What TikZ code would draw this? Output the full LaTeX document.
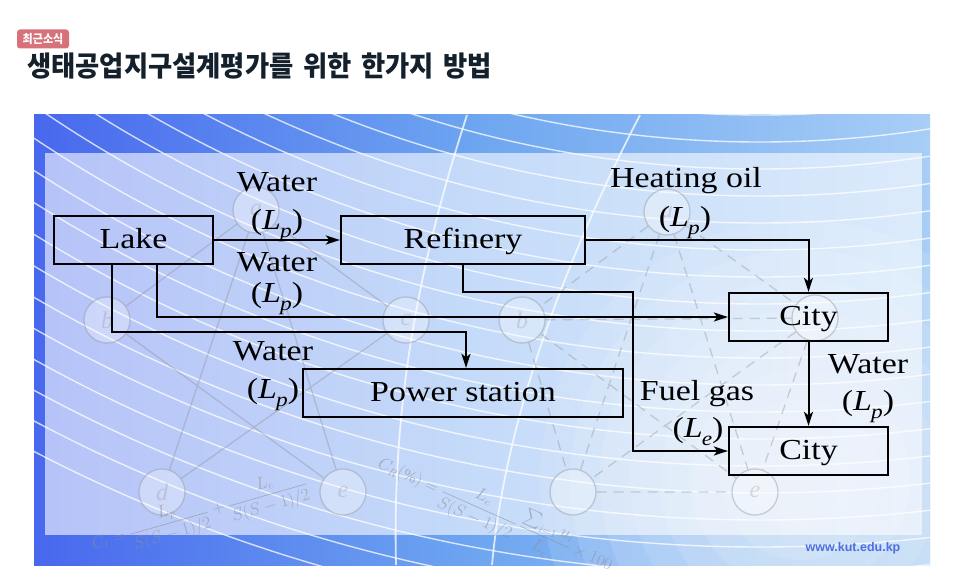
\documentclass[tikz,border=0pt]{standalone}
\usepackage{fontspec}
\usepackage{amsmath}
\setmainfont{Liberation Serif}
\newfontfamily\diag[FakeStretch=1.17]{Liberation Serif}
\newfontfamily\krfont[FakeStretch=0.92]{Noto Sans CJK KR}
\newfontfamily\krtitle[FakeStretch=0.94,WordSpace=1.6]{Noto Sans CJK KR}
\newfontfamily\webfont{Liberation Sans}
\usetikzlibrary{arrows.meta,calc}
\definecolor{frameL}{HTML}{4868EE}
\definecolor{frameM}{HTML}{6EA6F0}
\definecolor{frameR}{HTML}{A8CEF6}
\definecolor{badgec}{HTML}{D8727A}
\definecolor{titlec}{HTML}{14202B}
\definecolor{webc}{HTML}{4D6FE0}
\definecolor{ghost}{HTML}{8E8E96}
\newcommand\Lsub[1]{\textit{L}\kern-0.03em\raisebox{-0.3em}{\fontsize{20}{20}\selectfont\itshape #1}}
\begin{document}
\begin{tikzpicture}[x=1pt,y=-1pt,
  box/.style={draw=black,line width=2.3pt,minimum height=48pt,inner sep=0pt,text height=21pt,text depth=5pt,font=\diag\fontsize{29}{36}\selectfont},
  lbl/.style={font=\diag\fontsize{29}{36}\selectfont,inner sep=0pt,anchor=base},
  flow/.style={line width=2pt,-{Stealth[length=14pt,width=9pt,inset=3.5pt]}},
  gnode/.style={circle,draw=ghost,line width=1.3pt,minimum size=46pt,inner sep=0pt,fill=white,fill opacity=0.3,draw opacity=0.4,text opacity=0.3,text=ghost,font=\fontsize{24}{24}\selectfont\itshape},
  gline/.style={draw=ghost,line width=1.3pt,draw opacity=0.38},
  gdash/.style={gline,dash pattern=on 10pt off 7pt},
  ghosttext/.style={text=ghost,text opacity=0.6,inner sep=0pt,font=\fontsize{16}{16}\selectfont},
  arcline/.style={draw=white,line width=1.4pt,draw opacity=0.75}
]
\useasboundingbox (0,0) rectangle (960,583);
\fill[white] (0,0) rectangle (960,583);
% ---- header ----
\node[fill=badgec,rounded corners=3pt,minimum width=52pt,minimum height=19pt,inner sep=0pt,text=white,font=\krfont\bfseries\fontsize{12}{12}\selectfont] (badge) at (43,39) {최근소식};
\node[anchor=west,inner sep=0pt,text=titlec,font=\krtitle\bfseries\fontsize{28}{28}\selectfont] (title) at (27,66) {생태공업지구설계평가를 위한 한가지 방법};
% ---- background picture ----
\shade[left color=frameL, right color=frameR, middle color=frameM] (34,115) rectangle (930,565);
\fill[white,opacity=0.6] (45,153) rectangle (922,535);
\begin{scope}
  \clip (34,115) rectangle (930,565);
  \foreach \r in {50,80,...,260} \fill[white,opacity=0.11] (800,480) circle[radius=\r pt];
  \foreach \r in {1065,1092,...,1600} \draw[arcline] (760,-950) circle[radius=\r pt];
  \draw[arcline,line width=1.8pt] (467,115) .. controls (420,260) and (392,400) .. (396,565);
  \draw[arcline,line width=1.8pt] (640,115) .. controls (565,260) and (505,420) .. (492,565);
\end{scope}
% faint graph, left
\node[gnode] (ga) at (256,210) {a};
\node[gnode] (gb) at (107,320) {b};
\node[gnode] (gc) at (406,320) {c};
\node[gnode] (gd) at (162,492) {d};
\node[gnode] (ge) at (343,492) {e};
\draw[gline] (ga) -- (gb) (ga) -- (gc) (ga) -- (gd) (ga) -- (ge) (gb) -- (ge) (gc) -- (gd);
% faint graph, right
\node[gnode] (ha) at (667,212) {a};
\node[gnode] (hb) at (522,320) {b};
\node[gnode] (hc) at (815,318) {};
\node[gnode] (hd) at (573,492) {};
\node[gnode] (he) at (755,492) {e};
\draw[gdash] (ha)--(hb) (ha)--(hc) (ha)--(hd) (ha)--(he) (hb)--(hc) (hb)--(he) (hb)--(hd) (hc)--(hd) (hc)--(he) (hd)--(he);
% faint formulas
\node[ghosttext,rotate=16] (f1) at (200,515) {$\displaystyle C_t=\frac{L_p}{S(S-1)/2}+\frac{L_e}{S(S-1)/2}$};
\node[ghosttext,rotate=-24] (f2) at (495,515) {$\displaystyle C_R(\%)=\frac{L_e}{S(S-1)/2}\,\frac{\sum_{i=1} u_i}{L_e}\times100$};
\node[font=\webfont\bfseries\fontsize{12.5}{12.5}\selectfont,text=webc,inner sep=0pt] (web) at (853,548) {www.kut.edu.kp};
% ---- diagram ----
\node[box,minimum width=159pt] (lake) at (133.5,240) {Lake};
\node[box,minimum width=244pt] (ref) at (463,240) {Refinery};
\node[box,minimum width=159pt] (city1) at (808.5,317) {City};
\node[box,minimum width=320pt] (power) at (463,393) {Power station};
\node[box,minimum width=159pt] (city2) at (808.5,451) {City};
\coordinate (l1) at ($(lake.south west)!0.648!(lake.south east)$);
\coordinate (l2) at ($(lake.south west)!0.365!(lake.south east)$);
\coordinate (pw) at (466,332);
\coordinate (fg) at (633,292);
\draw[flow] (lake.east) -- (ref.west);
\draw[flow] (l1) |- (city1.west);
\draw[flow] (l2) |- (pw) -- (power.north -| pw);
\draw[flow] (ref.east) -| (city1.north);
\draw[flow] (ref.south) |- (fg) |- (city2.west);
\draw[flow] (city1.south) -- (city2.north);
% labels
\node[lbl] (w1) at (277,191) {Water};
\node[lbl] (w1p) at (277,229) {(\Lsub{p})};
\node[lbl] (w2) at (277,271) {Water};
\node[lbl] (w2p) at (277,302) {(\Lsub{p})};
\node[lbl] (w3) at (273,360) {Water};
\node[lbl] (w3p) at (273,398) {(\Lsub{p})};
\node[lbl] (ho) at (686,187) {Heating oil};
\node[lbl] (hop) at (685,226) {(\Lsub{p})};
\node[lbl] (fgl) at (697,400) {Fuel gas};
\node[lbl] (fgp) at (698,437) {(\Lsub{e})};
\node[lbl] (w4) at (868,373) {Water};
\node[lbl] (w4p) at (868,410) {(\Lsub{p})};
\end{tikzpicture}
\end{document}
